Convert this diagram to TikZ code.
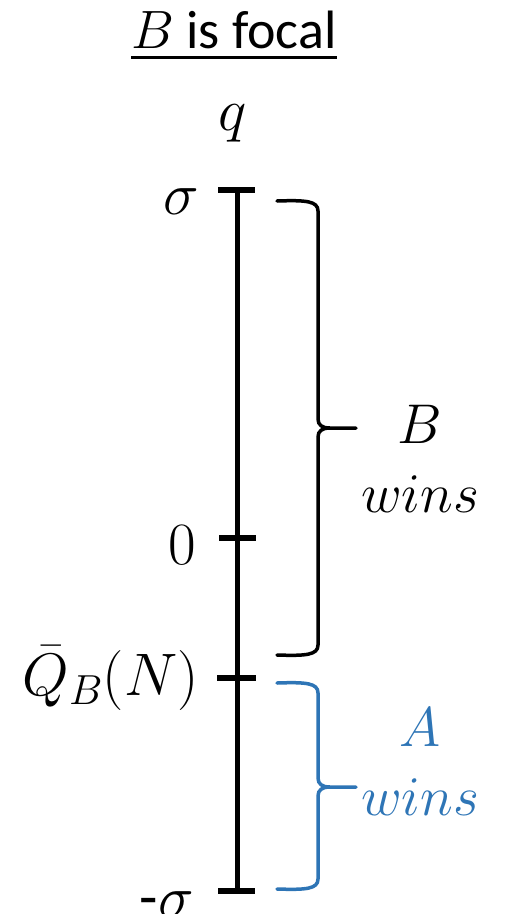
\RequirePackage{fix-cm}
\documentclass[tikz,border=0pt]{standalone}
\usepackage[no-math]{fontspec}
\setmainfont{Carlito}
\usepackage{tikz}
\usetikzlibrary{positioning, calc}
\definecolor{winblue}{RGB}{46,117,182}

% brace drawn as in the slide: #1 top, #2 tip, #3 bottom (px, downwards)
\newcommand\winbrace[3]{%
  (277,#1) .. controls (306,#1-1) and (318,#1) .. (318,#1+10)
  -- (318,#2-9) .. controls (318,#2-3) and (322,#2) .. (330,#2) -- (356,#2)
  (330,#2) .. controls (322,#2) and (318,#2+3) .. (318,#2+9)
  -- (318,#3-10) .. controls (318,#3) and (306,#3+1) .. (277,#3)}

\begin{document}
\begin{tikzpicture}[
  x=1pt, y=-1pt,
  axislabel/.style={inner sep=0pt, font=\fontsize{60}{66}\selectfont},
  winlabel/.style={inner sep=0pt, align=center, font=\fontsize{56}{69}\selectfont},
  tick/.style={line width=5.5pt},
  bracepath/.style={line width=3.5pt, line cap=round},
]
  \useasboundingbox (0,0) rectangle (505,914);

  % heading
  \node (title) [inner sep=0pt, anchor=base, font=\fontsize{54}{60}\selectfont] at (234,48) {$B$ is focal};
  \draw [line width=3pt] ([yshift=-9pt]title.base west) -- ([yshift=-9pt]title.base east);

  % axis
  \coordinate (top) at (237,190);
  \coordinate (zerotick) at (237,538);
  \coordinate (qtick) at (237,678);
  \coordinate (bottom) at (237,891);
  \draw [line width=5pt] (top) -- (bottom);
  \draw [tick] ([xshift=-19pt]top) -- ([xshift=18pt]top);
  \draw [tick] ([xshift=-19pt]bottom) -- ([xshift=18pt]bottom);
  \draw [tick] ([xshift=-18pt]zerotick) -- ([xshift=19pt]zerotick);
  \draw [tick] ([xshift=-20pt]qtick) -- ([xshift=19pt]qtick);

  % axis labels
  \node (q) [axislabel, anchor=base] at (233,130) {$q$};
  \node (sigmatop) [axislabel, anchor=base east] at (199,214) {$\sigma$};
  \node (zero) [axislabel, anchor=base east] at (196,564) {$0$};
  \node (qbar) [axislabel, anchor=base east] at (199,695) {$\bar{Q}_B(N)$};
  \node (sigmabot) [axislabel, anchor=base east] at (194,917) {-$\sigma$};

  % braces
  \draw [bracepath] \winbrace{201}{428}{655};
  \draw [bracepath, winblue] \winbrace{683}{787}{889};

  \node (bwins) [winlabel, anchor=base] at (420,512) {$B$\\$wins$};
  \node (awins) [winlabel, anchor=base, text=winblue] at (420,815) {$A$\\$wins$};
\end{tikzpicture}
\end{document}
